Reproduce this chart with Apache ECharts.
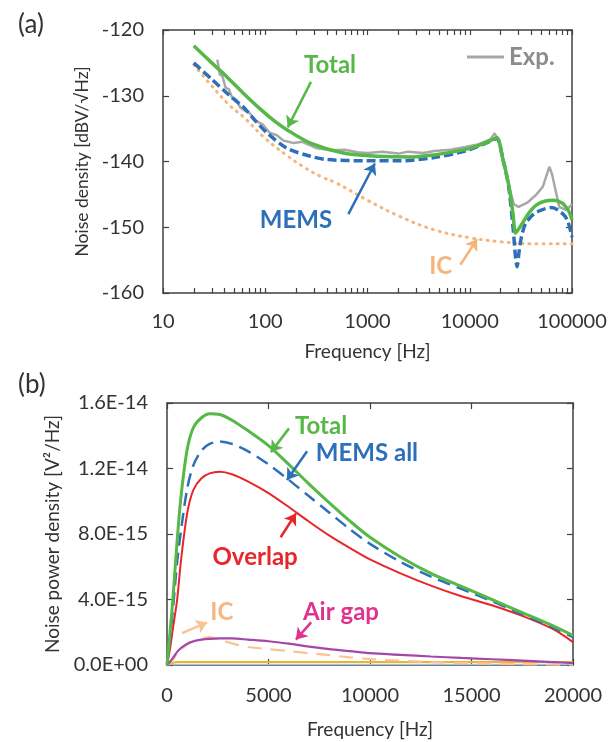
<!DOCTYPE html>
<html><head><meta charset="utf-8">
<script src="https://cdn.jsdelivr.net/npm/echarts@6/dist/echarts.min.js"></script>
<style>html,body{margin:0;padding:0;background:#fff}#c{width:616px;height:742px}</style>
</head><body><div id="c"></div><script>
// ---------- Panel (a): noise density [dBV/√Hz] vs frequency (log) ----------
const aTotalF = [20,30,42,60,89,120,164,277,580,1250,2800,4500,7000,10000,14000,17000,18500,21000,24000,26500,28000,30000,33000,38000,45000,55000,66000,80000,90000,95000,100000];
const aTotalY = [-122.4,-125.0,-127.1,-129.5,-132.0,-133.7,-135.2,-137.2,-138.7,-139.2,-139.3,-139.0,-138.5,-138.0,-137.2,-136.6,-136.4,-139.5,-143.5,-148.0,-150.9,-150.3,-149.3,-147.8,-146.6,-146.0,-145.9,-146.3,-147.2,-147.9,-148.9];
const aMemsF = [20,30,45,61,80,105,164,277,400,1000,2000,4500,9000,13000,17000,18500,21000,24000,26500,28000,29000,30500,32000,35000,42000,50000,63000,78000,90000,100000];
const aMemsY = [-125.0,-127.5,-130.0,-131.7,-133.8,-135.7,-138.0,-139.2,-139.7,-139.9,-139.9,-139.4,-138.4,-137.5,-136.7,-136.5,-139.5,-143.8,-150.0,-154.5,-156.0,-153.5,-151.5,-149.5,-148.0,-147.4,-147.0,-147.7,-148.9,-151.5];
const aIcF = [20,30,45,61,100,160,236,350,500,1000,2100,4500,10000,20000,40000,100000];
const aIcY = [-125.3,-128.5,-131.5,-133.2,-136.5,-139.0,-140.8,-142.3,-143.3,-145.9,-148.4,-150.4,-151.6,-152.2,-152.5,-152.5];
const aExpF = [34,36,38,41,44,48,52,57,62,70,80,95,110,130,150,190,230,320,450,600,800,1000,1400,2000,2500,3500,4500,6500,9000,12000,14000,16000,17500,19000,21000,24000,27000,30000,37000,45000,52000,60000,64000,68000,75000,88000,100000];
const aExpY = [-124.5,-126.8,-127.0,-128.8,-129.0,-130.5,-130.6,-131.8,-132.2,-132.6,-133.8,-134.4,-135.6,-136.0,-136.8,-137.2,-137.0,-138.0,-138.3,-138.2,-138.6,-138.7,-138.5,-138.8,-138.5,-138.7,-138.4,-138.2,-137.8,-137.4,-137.0,-136.6,-135.7,-136.8,-139.5,-143.5,-146.5,-146.9,-146.2,-145.0,-143.8,-140.8,-142.0,-143.9,-146.9,-147.4,-146.5];
const aXMajor = [10,100,1000,10000,100000];
const aXMinor = [20,30,40,50,60,70,80,90,200,300,400,500,600,700,800,900,2000,3000,4000,5000,6000,7000,8000,9000,20000,30000,40000,50000,60000,70000,80000,90000];

// ---------- Panel (b): noise power density (units of 1E-15 V²/Hz) ----------
const bF = [0,150,300,500,700,1000,1300,1700,2100,2600,3200,4000,5000,6000,7000,8000,9000,10000,11500,13000,14500,16000,17500,19000,20000];
const bTotal   = [0,2.0,4.2,7.6,10.4,13.2,14.5,15.1,15.35,15.3,14.95,14.3,13.4,12.25,11.05,9.9,8.8,7.8,6.6,5.6,4.8,4.0,3.2,2.4,1.8];
const bMems    = [0,1.6,3.5,6.3,8.3,10.8,12.2,13.1,13.5,13.65,13.5,13.05,12.25,11.3,10.3,9.3,8.3,7.4,6.3,5.4,4.65,3.9,3.1,2.3,1.7];
const bOverlap = [0,1.0,2.3,4.0,6.5,9.3,10.7,11.4,11.7,11.8,11.65,11.2,10.5,9.65,8.75,7.9,7.15,6.45,5.6,4.85,4.2,3.65,3.0,2.2,1.4];
const bAirGap  = [0,0.2,0.45,0.8,1.05,1.3,1.45,1.55,1.6,1.62,1.62,1.55,1.45,1.3,1.12,0.97,0.85,0.72,0.62,0.52,0.43,0.35,0.27,0.18,0.12];
const bIC      = [0,0.15,0.35,0.7,0.95,1.25,1.42,1.6,1.7,1.55,1.32,1.1,0.97,0.85,0.72,0.6,0.47,0.36,0.26,0.18,0.12,0.08,0.05,0.03,0.02];
const bSmallF  = [0,200,500,20000];
const bOther1  = [0,0.12,0.18,0.18];
const bOther2  = [0,0.03,0.03,0.03];
const bYTicks  = ['0.0E+00','4.0E-15','8.0E-15','1.2E-14','1.6E-14'];

const zip = (xs, ys) => xs.map((x, i) => [x, ys[i]]);
const FONT = 'Lato';
const AX = '#404040';
const TXT = '#333';

const G = '#56b846', B = '#2e6fba', O = '#f5b47c', GR = '#a8a8a8', R = '#e8262a', P = '#a347a8', M = '#e0338f';

function lbl(text, coord, color) {
  return { coord: coord, value: text, label: { show: true, formatter: text, color: color, fontSize: 24, fontWeight: 'bold', fontFamily: FONT, position: 'inside' } };
}
function arrowLine(from, to) { return [{ coord: from }, { coord: to }]; }
function annot(color, labels, arrows) {
  return {
    markPoint: { silent: true, animation: false, symbol: 'rect', symbolSize: 1, itemStyle: { color: 'transparent' }, data: labels },
    markLine: { silent: true, animation: false, symbol: ['none', 'arrow'], symbolSize: 11, label: { show: false },
      lineStyle: { color: color, width: 2.5, type: 'solid' }, emphasis: { disabled: true }, data: arrows }
  };
}

function logAxis(grid, pos, showLabels) {
  return {
    type: 'log', logBase: 10, gridIndex: grid, position: pos, min: 10, max: 100000,
    axisLine: { show: true, onZero: false, lineStyle: { color: AX, width: 1.5 } },
    axisTick: { show: true, inside: true, length: 5, customValues: aXMajor.concat(aXMinor), lineStyle: { color: AX, width: 1.2 } },
    axisLabel: { show: showLabels, customValues: aXMajor, formatter: v => String(Math.round(v)), color: TXT, fontSize: 20, fontFamily: FONT, margin: 19 },
    splitLine: { show: false }, minorTick: { show: false },
    name: showLabels ? 'Frequency [Hz]' : '', nameLocation: 'middle', nameGap: 49,
    nameTextStyle: { color: TXT, fontSize: 19, fontFamily: FONT }
  };
}
function linAxis(grid, pos, min, max, interval, showLabels, name, nameGap, fmt, margin, nameSize) {
  return {
    type: 'value', gridIndex: grid, position: pos, min: min, max: max, interval: interval,
    axisLine: { show: true, onZero: false, lineStyle: { color: AX, width: 1.5 } },
    axisTick: { show: true, inside: true, length: 6, lineStyle: { color: AX, width: 1.2 } },
    axisLabel: { show: showLabels, formatter: fmt, color: TXT, fontSize: 20, fontFamily: FONT, margin: margin },
    splitLine: { show: false },
    name: showLabels ? name : '', nameLocation: 'middle', nameGap: nameGap,
    nameTextStyle: { color: TXT, fontSize: nameSize || 19, fontFamily: FONT }
  };
}

const chart = echarts.init(document.getElementById('c'), null, { renderer: 'canvas' });
chart.setOption({
  animation: false,
  backgroundColor: '#fff',
  textStyle: { fontFamily: FONT },
  title: [
    { text: '(a)', left: 13, top: 7, textStyle: { fontSize: 26, fontWeight: 'normal', color: TXT, fontFamily: FONT } },
    { text: '(b)', left: 13, top: 367, textStyle: { fontSize: 26, fontWeight: 'normal', color: TXT, fontFamily: FONT } }
  ],
  legend: {
    data: ['Exp.'], left: 462, top: 40, icon: 'rect', itemWidth: 37, itemHeight: 3, itemGap: 6,
    textStyle: { color: '#8c8c8c', fontSize: 24, fontWeight: 'bold', fontFamily: FONT }, selectedMode: false
  },
  grid: [
    { left: 163, top: 30, right: 44, height: 263 },
    { left: 167, top: 403, right: 43, height: 262 }
  ],
  xAxis: [
    logAxis(0, 'bottom', true),
    logAxis(0, 'top', false),
    linAxis(1, 'bottom', 0, 20000, 5000, true, 'Frequency [Hz]', 55, v => String(v), 21, 19),
    linAxis(1, 'top', 0, 20000, 5000, false, '', 0, v => String(v), 22)
  ],
  yAxis: [
    linAxis(0, 'left', -160, -120, 10, true, 'Noise density [dBV/\u221AHz]', 72, v => String(v), 19, 17.5),
    linAxis(0, 'right', -160, -120, 10, false, '', 0, v => String(v), 20),
    linAxis(1, 'left', 0, 16, 4, true, 'Noise power density [V\u00B2/Hz]', 104, v => bYTicks[Math.round(v / 4)], 19, 19),
    linAxis(1, 'right', 0, 16, 4, false, '', 0, v => String(v), 20)
  ],
  series: [
    // panel (a)
    Object.assign({ name: 'IC (a)', type: 'line', xAxisIndex: 0, yAxisIndex: 0, data: zip(aIcF, aIcY), smooth: 0.4, symbol: 'none',
      lineStyle: { color: O, width: 3, type: [1, 6], cap: 'round' } },
      annot(O, [lbl('IC', [5200, -155.9], O)], [arrowLine([8100, -155.7], [11800, -151.8])])),
    Object.assign({ name: 'Exp.', type: 'line', xAxisIndex: 0, yAxisIndex: 0, data: zip(aExpF, aExpY), smooth: false, symbol: 'none',
      color: GR, lineStyle: { color: GR, width: 2.5 } }),
    Object.assign({ name: 'MEMS (a)', type: 'line', xAxisIndex: 0, yAxisIndex: 0, data: zip(aMemsF, aMemsY), smooth: 0.3, symbol: 'none',
      lineStyle: { color: B, width: 3.5, type: [9, 4] } },
      annot(B, [lbl('MEMS', [200, -148.9], B)], [arrowLine([650, -148.0], [1180, -140.3])])),
    Object.assign({ name: 'Total (a)', type: 'line', xAxisIndex: 0, yAxisIndex: 0, data: zip(aTotalF, aTotalY), smooth: 0.3, symbol: 'none',
      lineStyle: { color: G, width: 3.5 } },
      annot(G, [lbl('Total', [430, -125.3], G)], [arrowLine([280, -127.9], [166, -134.8])])),
    // panel (b)
    { name: 'other2', type: 'line', xAxisIndex: 2, yAxisIndex: 2, data: zip(bSmallF, bOther2), symbol: 'none', lineStyle: { color: '#9dc3e6', width: 1.5 } },
    { name: 'other1', type: 'line', xAxisIndex: 2, yAxisIndex: 2, data: zip(bSmallF, bOther1), symbol: 'none', lineStyle: { color: '#f0b428', width: 2 } },
    Object.assign({ name: 'IC (b)', type: 'line', xAxisIndex: 2, yAxisIndex: 2, data: zip(bF, bIC), smooth: 0.3, symbol: 'none',
      lineStyle: { color: '#f8c494', width: 2.2, type: [14, 9] } },
      annot('#f8c494', [lbl('IC', [2700, 3.25], '#f5b682')], [arrowLine([740, 1.95], [1980, 2.6])])),
    Object.assign({ name: 'Air gap', type: 'line', xAxisIndex: 2, yAxisIndex: 2, data: zip(bF, bAirGap), smooth: 0.3, symbol: 'none',
      lineStyle: { color: P, width: 2.2 } },
      annot(M, [lbl('Air gap', [8570, 3.25], M)], [arrowLine([7100, 2.6], [6350, 1.55])])),
    Object.assign({ name: 'Overlap', type: 'line', xAxisIndex: 2, yAxisIndex: 2, data: zip(bF, bOverlap), smooth: 0.3, symbol: 'none',
      lineStyle: { color: R, width: 2 } },
      annot(R, [lbl('Overlap', [4340, 6.6], R)], [arrowLine([5600, 7.8], [6350, 9.25])])),
    Object.assign({ name: 'MEMS all', type: 'line', xAxisIndex: 2, yAxisIndex: 2, data: zip(bF, bMems), smooth: 0.3, symbol: 'none',
      lineStyle: { color: B, width: 2.5, type: [13, 7] } },
      annot(B, [lbl('MEMS all', [9850, 12.9], B)], [arrowLine([6900, 13.05], [5910, 11.3])])),
    Object.assign({ name: 'Total (b)', type: 'line', xAxisIndex: 2, yAxisIndex: 2, data: zip(bF, bTotal), smooth: 0.3, symbol: 'none',
      lineStyle: { color: G, width: 3 } },
      annot(G, [lbl('Total', [7590, 14.6], G)], [arrowLine([6010, 14.45], [5120, 13.0])]))
  ]
});
</script></body></html>
